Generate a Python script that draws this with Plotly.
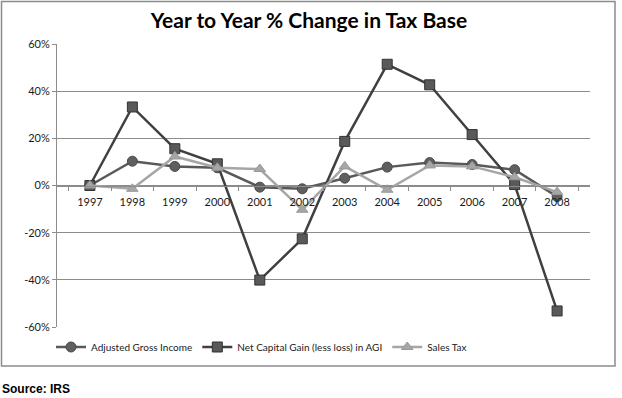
import plotly.graph_objects as go

years = ["1997", "1998", "1999", "2000", "2001", "2002", "2003", "2004", "2005", "2006", "2007", "2008"]
agi = [0.0, 10.3, 8.1, 7.5, -0.7, -1.4, 3.1, 7.8, 9.7, 8.9, 6.7, -4.7]
net_cap_gain = [0.0, 33.3, 15.6, 9.2, -40.1, -22.6, 18.7, 51.4, 42.7, 21.6, 0.4, -53.2]
sales_tax = [0.0, -1.4, 12.3, 7.5, 7.0, -10.3, 8.1, -1.8, 8.5, 8.1, 3.5, -2.8]
y_ticks = [-60, -40, -20, 0, 20, 40, 60]
y_tick_text = ["-60%", "-40%", "-20%", "0%", "20%", "40%", "60%"]

W, H = 622, 398
L, R, T, B = 57, 590, 44, 327

def px_x(p):
    return (p - L) / (R - L)

def px_y(p):
    return (B - p) / (B - T)

fig = go.Figure()
fig.add_trace(go.Scatter(
    x=years, y=agi, name="Adjusted Gross Income", mode="lines+markers",
    line=dict(color="#595959", width=2.5),
    marker=dict(symbol="circle", size=10, color="#5f5f5f", line=dict(color="#4a4a4a", width=1)),
))
fig.add_trace(go.Scatter(
    x=years, y=net_cap_gain, name="Net Capital Gain (less loss) in AGI", mode="lines+markers",
    line=dict(color="#404040", width=2.5),
    marker=dict(symbol="square", size=10, color="#595959", line=dict(color="#333333", width=1)),
))
fig.add_trace(go.Scatter(
    x=years, y=sales_tax, name="Sales Tax", mode="lines+markers",
    line=dict(color="#a6a6a6", width=2.5),
    marker=dict(symbol="triangle-up", size=10, color="#a6a6a6", line=dict(color="#999999", width=1)),
))

fig.update_layout(
    width=W, height=H,
    margin=dict(l=L, r=W - R, t=T, b=H - B),
    paper_bgcolor="white", plot_bgcolor="white",
    font=dict(family="Lato, Open Sans, sans-serif", size=11, color="#1a1a1a"),
    title=dict(text="<b>Year to Year % Change in Tax Base</b>", x=px_x(309), xref="paper", xanchor="center",
               y=1 - 21 / H, yanchor="middle",
               font=dict(family="Lato, Open Sans, sans-serif", size=21, color="#000000")),
    showlegend=True,
    legend=dict(orientation="h", x=px_x(51), xanchor="left", y=px_y(347), yanchor="middle",
                font=dict(size=10, color="#1a1a1a"), bgcolor="rgba(0,0,0,0)", itemwidth=30,
                tracegroupgap=0),
    xaxis=dict(
        type="category", anchor="free", position=0.5,
        showline=True, linecolor="#8c8c8c", linewidth=1,
        ticks="outside", ticklen=4, tickcolor="#8c8c8c", tickson="boundaries",
        showgrid=False, zeroline=False, ticklabelstandoff=6,
        tickfont=dict(size=11, color="#1a1a1a"),
    ),
    yaxis=dict(
        range=[-60, 60], tickvals=y_ticks, ticktext=y_tick_text,
        showline=True, linecolor="#8c8c8c", linewidth=1,
        ticks="outside", ticklen=4, tickcolor="#8c8c8c",
        showgrid=True, gridcolor="#8c8c8c", gridwidth=1,
        zeroline=False, tickfont=dict(size=11, color="#1a1a1a"),
    ),
)

# outer chart border
fig.add_shape(type="rect", xref="paper", yref="paper",
              x0=px_x(1.5), x1=px_x(615), y0=px_y(366), y1=px_y(1.5),
              line=dict(color="#8c8c8c", width=1.5), fillcolor="rgba(0,0,0,0)", layer="below")

fig.add_annotation(text="<b>Source: IRS</b>", xref="paper", yref="paper",
                   x=px_x(0), y=px_y(389), xanchor="left", yanchor="middle", showarrow=False,
                   font=dict(family="Liberation Sans, Arial, sans-serif", size=12, color="#000000"))

fig.write_html("out.html", config={"displayModeBar": False},
               post_script="document.body.style.margin='0';")
